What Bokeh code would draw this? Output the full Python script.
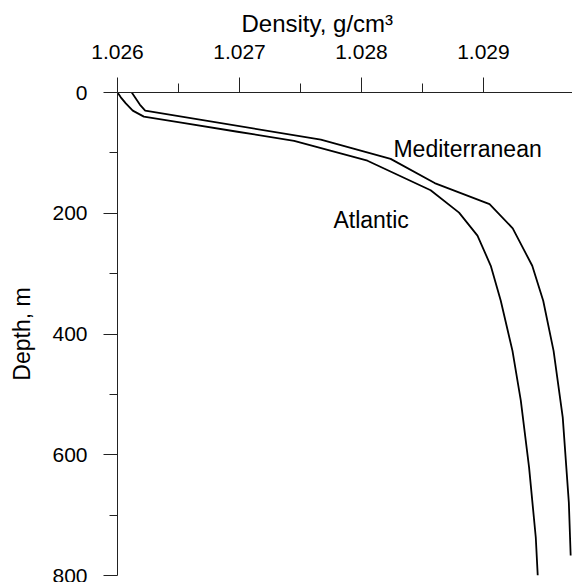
from bokeh.plotting import figure
from bokeh.models import Range1d, FixedTicker, NumeralTickFormatter, Label
from bokeh.embed import file_html
from bokeh.resources import INLINE

# Atlantic profile (depth in m, density in g/cm3)
atl_depth = [0, 8, 18, 30, 40, 50, 65, 80, 113, 162, 199, 237, 287, 345, 428, 510, 621, 737, 800]
atl_density = [1.026000, 1.026027, 1.026068, 1.026125, 1.026216, 1.026523, 1.026984, 1.027448,
               1.028049, 1.028567, 1.028800, 1.028951, 1.029060, 1.029142, 1.029238, 1.029306,
               1.029374, 1.029429, 1.029445]

# Mediterranean profile
med_depth = [0, 10, 20, 30, 78, 110, 150, 185, 225, 287, 345, 428, 538, 679, 767]
med_density = [1.026117, 1.026150, 1.026183, 1.026227, 1.027667, 1.028239, 1.028600, 1.029050,
               1.029240, 1.029400, 1.029490, 1.029575, 1.029650, 1.029700, 1.029715]

x_ticks = [1.026, 1.027, 1.028, 1.029]
x_minor = [1.0265, 1.0275, 1.0285]
y_ticks = [0, 200, 400, 600, 800]
y_minor = [100, 300, 500, 700]

FONT = "Liberation Sans"

p = figure(width=572, height=582, output_backend="svg", toolbar_location=None,
           x_range=Range1d(1.026, 1.02973), y_range=Range1d(800, 0),
           x_axis_location="above", y_axis_location="left",
           min_border_left=117, min_border_top=92, min_border_bottom=7, min_border_right=0)
p.outline_line_color = None
p.grid.visible = False
p.background_fill_color = "white"
p.border_fill_color = "white"

p.title.text = "Density, g/cm³"
p.title.align = "left"
p.title.offset = 124
p.title.text_font = FONT
p.title.text_font_size = "24px"
p.title.text_font_style = "normal"
p.title.text_color = "black"
p.title.text_line_height = 0.8
p.title.standoff = 10

xa = p.xaxis[0]
xa.ticker = FixedTicker(ticks=x_ticks, minor_ticks=x_minor)
xa.formatter = NumeralTickFormatter(format="0.000")
ya = p.yaxis[0]
ya.ticker = FixedTicker(ticks=y_ticks, minor_ticks=y_minor)
ya.axis_label = "Depth, m"

for ax, mo, mi in ((xa, 15, 9), (ya, 14, 8)):
    ax.axis_line_color = "#222222"
    ax.major_tick_line_color = "#222222"
    ax.minor_tick_line_color = "#222222"
    ax.major_tick_out = mo
    ax.major_tick_in = 0
    ax.minor_tick_out = mi
    ax.minor_tick_in = 0
    ax.major_label_text_font = FONT
    ax.major_label_text_font_size = "21px"
    ax.major_label_text_color = "black"
    ax.axis_label_text_font = FONT
    ax.axis_label_text_font_size = "23px"
    ax.axis_label_text_font_style = "normal"
    ax.axis_label_text_color = "black"

xa.major_label_standoff = 19
ya.major_label_standoff = 16
ya.axis_label_standoff = 14

p.line(atl_density, atl_depth, line_color="black", line_width=1.8)
p.line(med_density, med_depth, line_color="black", line_width=1.8)

p.add_layout(Label(x=1.028262, y=93, text="Mediterranean", text_font=FONT,
                   text_font_size="23px", text_color="black", text_baseline="alphabetic"))
p.add_layout(Label(x=1.02777, y=212, text="Atlantic", text_font=FONT,
                   text_font_size="23px", text_color="black", text_baseline="alphabetic"))

open("out.html", "w").write(file_html(p, INLINE))
